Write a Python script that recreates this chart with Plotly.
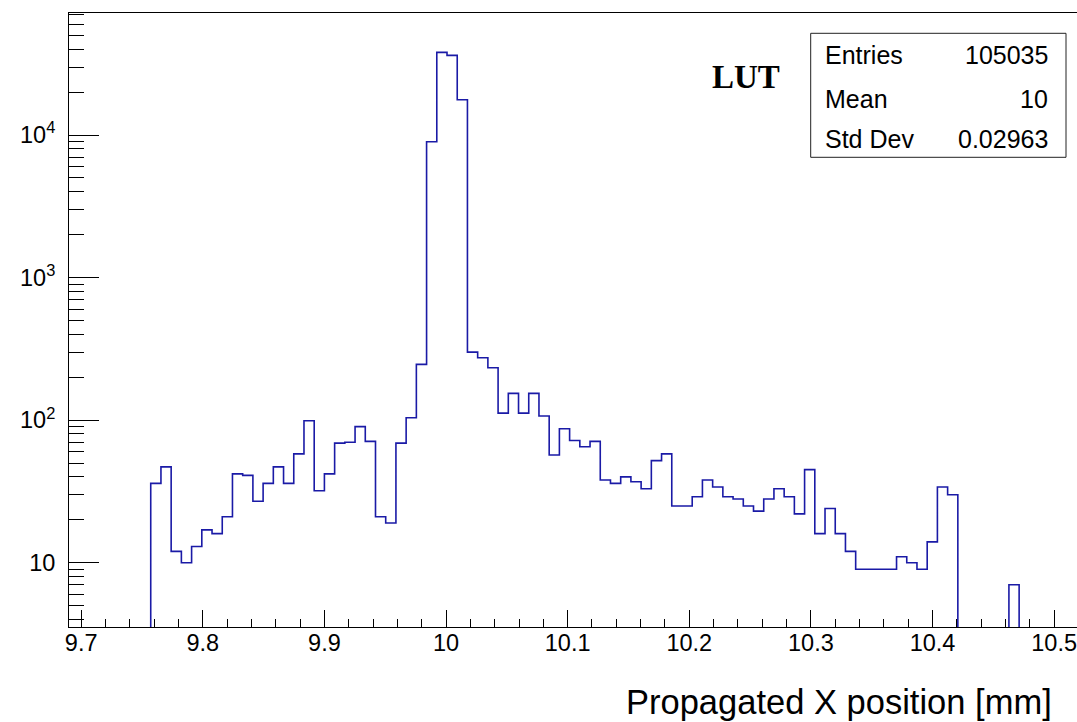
import numpy as np
import plotly.graph_objects as go

# Histogram definition: 100 bins on [9.69, 10.53] mm
x_min = 9.69
x_max = 10.53
n_bins = 100

# Bin contents (bin index 0 .. 99)
counts = [
    0, 0, 0, 0, 0, 0, 0, 0, 36, 47,
    12, 10, 13, 17, 16, 21, 42, 41, 27, 36,
    47, 36, 58, 99, 32, 42, 69, 70, 90, 71,
    21, 19, 69, 104, 246, 8980, 38020, 36230, 17690, 300,
    274, 233, 112, 154, 112, 154, 107, 57, 87, 72,
    65, 71, 38, 36, 40, 37, 33, 52, 58, 25,
    25, 29, 38, 34, 29, 28, 25, 23, 28, 33,
    29, 22, 45, 16, 24, 16, 12, 9, 9, 9,
    9, 11, 10, 9, 14, 34, 30, 0, 0, 0,
    0, 0, 7, 0, 0, 0, 0, 0, 0, 0,
]

# Statistics box
stat_names = ["Entries", "Mean", "Std Dev"]
stat_values = ["105035", "10", "0.02963"]

# Axis tick labels
x_tick_vals = [9.7, 9.8, 9.9, 10.0, 10.1, 10.2, 10.3, 10.4, 10.5]
x_tick_text = ["9.7", "9.8", "9.9", "10", "10.1", "10.2", "10.3", "10.4", "10.5"]
y_tick_vals = [10, 100, 1000, 10000]
y_tick_text = ["10", "10<sup>2</sup>", "10<sup>3</sup>", "10<sup>4</sup>"]

# ---- geometry of the canvas ----
W, H = 1077, 722
ML, MT, MB = 69, 13, 95
plot_w = W - ML
plot_h = H - MT - MB
px_per_unit = 1216.25                     # horizontal scale of the frame
x_view_max = x_min + plot_w / px_per_unit  # frame continues past the right border
y_log_range = [0.549, 4.856]

def px(xp):
    return (xp - ML) / plot_w

def py(yp):
    return (H - MB - yp) / plot_h

# ---- step outline of the histogram ----
bin_w = (x_max - x_min) / n_bins
edges = x_min + bin_w * np.arange(n_bins + 1)
c = np.asarray(counts, dtype=float)
c_draw = np.where(c > 0, c, 1e-3)          # empty bins fall below the frame and get clipped
xs = np.repeat(edges, 2)[1:-1]
ys = np.repeat(c_draw, 2)

fig = go.Figure()
fig.add_trace(go.Scatter(
    x=xs, y=ys, mode="lines",
    line=dict(color="#1a1aa6", width=1.6),
    hoverinfo="skip", showlegend=False,
))

# minor tick positions
x_minor = [round(v, 2) for v in np.arange(9.70, 10.53, 0.02)
           if abs(round(v * 10) - v * 10) > 1e-6]
y_minor = []
for d in range(0, 5):
    for m in range(2, 10):
        v = m * 10 ** d
        if y_log_range[0] <= np.log10(v) <= y_log_range[1]:
            y_minor.append(v)

font_main = "Liberation Sans, Arial, Helvetica, sans-serif"

fig.update_layout(
    width=W, height=H,
    margin=dict(l=ML, r=0, t=MT, b=MB, pad=0),
    paper_bgcolor="white", plot_bgcolor="white",
    font=dict(family=font_main, color="black", size=23),
    xaxis=dict(
        range=[x_min, x_view_max],
        showgrid=False, zeroline=False,
        showline=True, linecolor="black", linewidth=1, mirror=True,
        ticks="inside", ticklen=17, tickwidth=1, tickcolor="black",
        tickmode="array", tickvals=x_tick_vals, ticktext=x_tick_text,
        tickfont=dict(size=23.5, family=font_main, color="black"),
        ticklabelstandoff=-5,
        ticklabeloverflow="allow",
        minor=dict(tickmode="array", tickvals=x_minor, ticks="inside",
                   ticklen=8, tickwidth=1, tickcolor="black", showgrid=False),
    ),
    yaxis=dict(
        type="log", range=y_log_range,
        showgrid=False, zeroline=False,
        showline=True, linecolor="black", linewidth=1, mirror=False,
        ticks="inside", ticklen=30, tickwidth=1, tickcolor="black",
        tickmode="array", tickvals=y_tick_vals, ticktext=y_tick_text,
        tickfont=dict(size=23.5, family=font_main, color="black"),
        ticklabelstandoff=8,
        minor=dict(tickmode="array", tickvals=y_minor, ticks="inside",
                   ticklen=15, tickwidth=1, tickcolor="black", showgrid=False),
    ),
)

# statistics box
fig.add_shape(type="rect", xref="paper", yref="paper",
              x0=px(810.7), x1=px(1066), y0=py(157.3), y1=py(33.3),
              line=dict(color="#222222", width=1), fillcolor="white")
row_y = [55, 99, 139]
for name, val, yy in zip(stat_names, stat_values, row_y):
    fig.add_annotation(xref="paper", yref="paper", x=px(823), y=py(yy),
                       text=name, showarrow=False, xanchor="left", yanchor="middle",
                       font=dict(size=25, family=font_main, color="black"))
    fig.add_annotation(xref="paper", yref="paper", x=px(1050), y=py(yy),
                       text=val, showarrow=False, xanchor="right", yanchor="middle",
                       font=dict(size=25, family=font_main, color="black"))

# label
fig.add_annotation(xref="paper", yref="paper", x=px(745.8), y=py(77),
                   text="<b>LUT</b>", showarrow=False, xanchor="center", yanchor="middle",
                   font=dict(size=33, family="Liberation Serif, Times New Roman, serif",
                             color="black"))

# x-axis title, right aligned
fig.add_annotation(xref="paper", yref="paper", x=px(1053.5), y=py(702),
                   text="Propagated X position [mm]", showarrow=False,
                   xanchor="right", yanchor="middle",
                   font=dict(size=34.5, family=font_main, color="black"))

fig.write_html("out.html")
